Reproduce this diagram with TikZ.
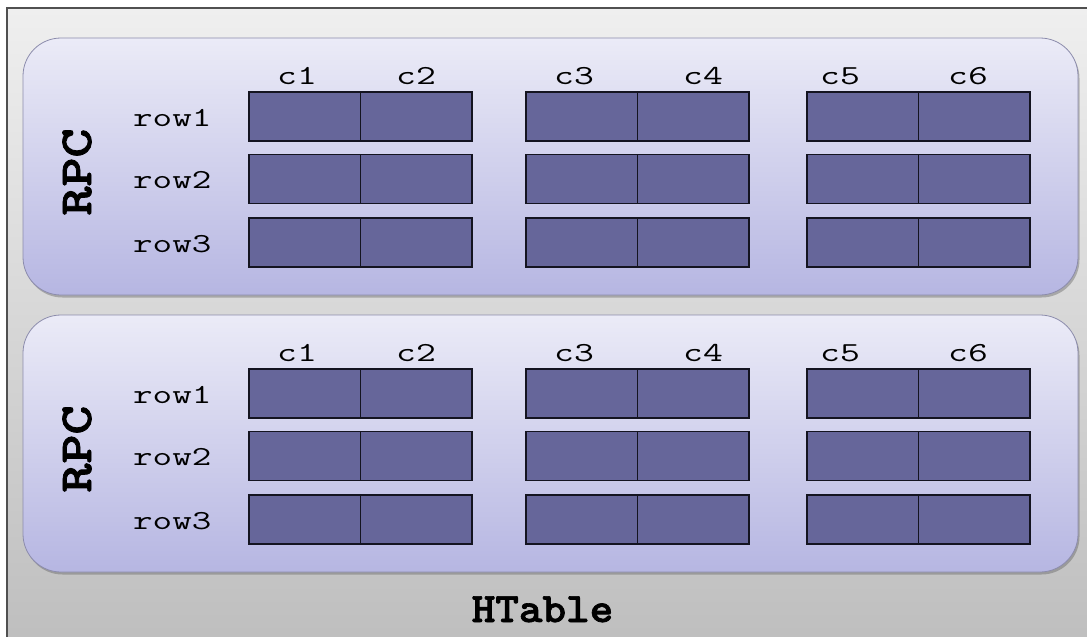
\documentclass[tikz,border=0pt]{standalone}
\usepackage{graphicx}
\usepackage{fontspec}
\newfontfamily\heavymono[FakeBold=1.6]{lmmonolt10-bold.otf}
\usetikzlibrary{shadows}
\definecolor{bgtop}{HTML}{EFEFEF}
\definecolor{bgbot}{HTML}{BEBEBE}
\definecolor{framecol}{HTML}{505050}
\definecolor{paneltop}{HTML}{EBEBF7}
\definecolor{panelbot}{HTML}{B6B6E2}
\definecolor{panelline}{HTML}{8C8CAC}
\definecolor{cellfill}{HTML}{66669A}
\definecolor{cellline}{HTML}{141420}
\begin{document}
\begin{tikzpicture}[x=1pt,y=-1pt,
  panel/.style={draw=panelline, line width=0.8pt, top color=paneltop, bottom color=panelbot,
    rounded corners=38pt, minimum width=1055pt, minimum height=257pt, inner sep=0pt,
    drop shadow={shadow xshift=1.5pt, shadow yshift=-2.5pt, opacity=0.35, fill=black!70}},
  cell/.style={draw=cellline, fill=cellfill, line width=1.6pt, minimum width=111.5pt,
    minimum height=49pt, inner sep=0pt, outer sep=0pt},
  lbl/.style={font=\fontsize{27.5}{30}\selectfont\ttfamily, inner sep=0pt},
  big/.style={font=\fontsize{46}{50}\selectfont\heavymono, inner sep=0pt},
]
\useasboundingbox (0,0) rectangle (1087,637);
\shade[top color=bgtop, bottom color=bgbot] (7,8) rectangle (1097,647);
\draw[line width=1.2pt, draw=framecol] (1097,8) -- (7,8) -- (7,647);
\foreach \p/\oy in {1/0,2/277}{
  \node[panel] (panel\p) at (550.5,166.5+\oy) {};
  \foreach \c/\lx in {1/297,2/416,3/574,4/703,5/840,6/968}{
    \node[lbl, anchor=base] (p\p hdr\c) at (\lx,84+\oy) {\scalebox{1.4}[1]{c\c}};
  }
  \foreach \r/\ry in {1/116.5,2/179,3/242.5}{
    \node[lbl, anchor=base west] (p\p row\r) at (133,\ry+\oy+9.5) {\scalebox{1.38}[1]{row\r}};
    \foreach \c/\cx in {1/304.75,2/416.25,3/581.75,4/693.25,5/862.75,6/974.25}{
      \node[cell] (p\p r\r c\c) at (\cx,\ry+\oy) {};
    }
  }
  \node[big, rotate=90] (rpc\p) at (77,172+\oy) {\scalebox{1.2}[1]{RPC}};
}
\node[font=\fontsize{42}{46}\selectfont\heavymono, inner sep=0pt, anchor=base] (htable) at (542.5,622) {\scalebox{1.07}[1]{HTable}};
\end{tikzpicture}
\end{document}
